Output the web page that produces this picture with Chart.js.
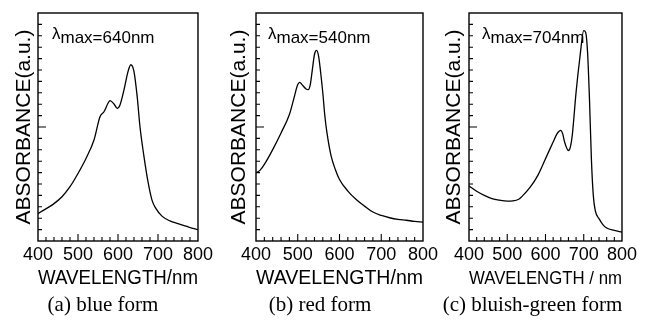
<!DOCTYPE html>
<html><head><meta charset="utf-8">
<script src="https://cdn.jsdelivr.net/npm/chart.js@4"></script>
<style>
html,body{margin:0;padding:0;background:#fff;}
body{width:653px;height:322px;position:relative;overflow:hidden;}
.p{position:absolute;top:0;height:322px;}
</style></head><body>
<div class="p" style="left:0px;width:216px"><canvas id="ca"></canvas></div>
<div class="p" style="left:217px;width:226px"><canvas id="cb"></canvas></div>
<div class="p" style="left:430px;width:210px"><canvas id="cc"></canvas></div>
<script>
// ---- data ----
const wavelengthA = [400,440,460,480,500,520,540,555,565,575,580,590,598,605,615,625,632,640,648,655,665,675,685,695,710,730,750,770,790,800];
const absorbanceA = [0.120,0.164,0.194,0.238,0.296,0.362,0.443,0.545,0.567,0.604,0.616,0.601,0.582,0.597,0.663,0.743,0.773,0.743,0.633,0.501,0.370,0.260,0.179,0.142,0.109,0.088,0.076,0.065,0.054,0.050];

const wavelengthB = [400,410,420,440,460,480,490,500,505,510,520,525,530,535,540,545,550,555,560,565,570,580,590,600,620,640,660,680,700,720,740,760,780,800];
const absorbanceB = [0.299,0.311,0.336,0.401,0.474,0.555,0.620,0.686,0.696,0.686,0.667,0.664,0.686,0.752,0.818,0.836,0.810,0.737,0.650,0.547,0.474,0.372,0.314,0.270,0.219,0.182,0.153,0.127,0.112,0.102,0.095,0.091,0.086,0.083];

const wavelengthC = [400,420,440,460,480,500,515,530,540,560,580,600,620,630,640,645,650,660,665,670,680,690,700,705,710,715,720,725,730,740,750,760,780,800];
const absorbanceC = [0.241,0.218,0.200,0.186,0.179,0.175,0.176,0.183,0.198,0.236,0.288,0.361,0.434,0.470,0.485,0.470,0.434,0.397,0.412,0.463,0.653,0.806,0.923,0.915,0.828,0.623,0.361,0.200,0.134,0.098,0.072,0.057,0.047,0.039];

const xTickLabels = [400,500,600,700,800];
const peakLabels = ['640nm','540nm','704nm'];
const captions = ['(a) blue form','(b) red form','(c) bluish-green form'];
const xTitles = ['WAVELENGTH/nm','WAVELENGTH/nm','WAVELENGTH / nm'];
const yTitle = 'ABSORBANCE(a.u.)';

const SANS = "'Liberation Sans', Arial, sans-serif";
const SERIF = "'Liberation Serif', 'Times New Roman', serif";

const framePlugin = {
  id: 'frame',
  afterDraw(chart, args, opts) {
    const {ctx, chartArea: a, scales: {x, y}} = chart;
    ctx.save();
    ctx.strokeStyle = '#000';
    ctx.lineWidth = 1.4;
    ctx.strokeRect(a.left, a.top, a.right - a.left, a.bottom - a.top);
    ctx.lineWidth = 1.1;
    ctx.beginPath();
    for (let v = 420; v < 800; v += 20) {
      const px = x.getPixelForValue(v);
      const len = (v % 100 === 0) ? 7 : 4;
      ctx.moveTo(px, a.bottom); ctx.lineTo(px, a.bottom - len);
    }
    for (let i = 1; i < 20; i++) {
      const py = y.getPixelForValue(i * 0.05);
      const len = (i === 10) ? 8 : 4;
      ctx.moveTo(a.left, py); ctx.lineTo(a.left + len, py);
    }
    ctx.stroke();
    // lambda max label
    ctx.fillStyle = '#000';
    ctx.textBaseline = 'alphabetic';
    ctx.textAlign = 'left';
    const lx = a.left + opts.dx;
    ctx.font = "17px " + SANS;
    ctx.fillText('λ', lx, 39);
    ctx.font = "17px " + SANS;
    ctx.fillText('max=' + opts.peak, lx + 8.5, 43);
    ctx.restore();
  }
};

function makeChart(id, wl, ab, idx, yW, yPad, rightPad, dx, xtSize) {
  const pts = wl.map((w, i) => ({x: w, y: ab[i]}));
  return new Chart(document.getElementById(id), {
    type: 'line',
    data: {datasets: [{data: pts, borderColor: '#000', borderWidth: 1.3, pointRadius: 0, fill: false, cubicInterpolationMode: 'monotone'}]},
    options: {
      responsive: true, maintainAspectRatio: false, animation: false,
      devicePixelRatio: 1,
      layout: {padding: {top: 13, right: rightPad, left: 0, bottom: 0}},
      plugins: {
        legend: {display: false}, tooltip: {enabled: false},
        title: {display: true, position: 'bottom', text: captions[idx], color: '#000',
          font: {family: SERIF, size: 21, weight: 'normal', lineHeight: '25px'}, padding: {top: 0, bottom: 4}},
        frame: {peak: peakLabels[idx], dx: dx}
      },
      scales: {
        x: {type: 'linear', min: 400, max: 800,
          afterBuildTicks: s => { s.ticks = xTickLabels.map(v => ({value: v})); },
          afterFit: s => { s.height = 52; },
          grid: {display: false, drawTicks: false}, border: {display: false},
          ticks: {color: '#000', font: {family: SANS, size: 18}, padding: 3, maxRotation: 0, autoSkip: false},
          title: {display: true, text: xTitles[idx], color: '#000', font: {family: SANS, size: xtSize}, padding: {top: 0, bottom: 3}}
        },
        y: {type: 'linear', min: 0, max: 1,
          afterFit: s => { s.width = yW; },
          grid: {display: false, drawTicks: false}, border: {display: false},
          ticks: {display: false},
          title: {display: true, text: yTitle, color: '#000', font: {family: SANS, size: 21}, padding: {top: yPad, bottom: 0}}
        }
      }
    },
    plugins: [framePlugin]
  });
}

makeChart('ca', wavelengthA, absorbanceA, 0, 38, 12, 10, 14, 20);
makeChart('cb', wavelengthB, absorbanceB, 1, 39, 10, 20, 12, 20);
makeChart('cc', wavelengthC, absorbanceC, 2, 39, 12, 5, 13, 17.8);
</script>
</body></html>
